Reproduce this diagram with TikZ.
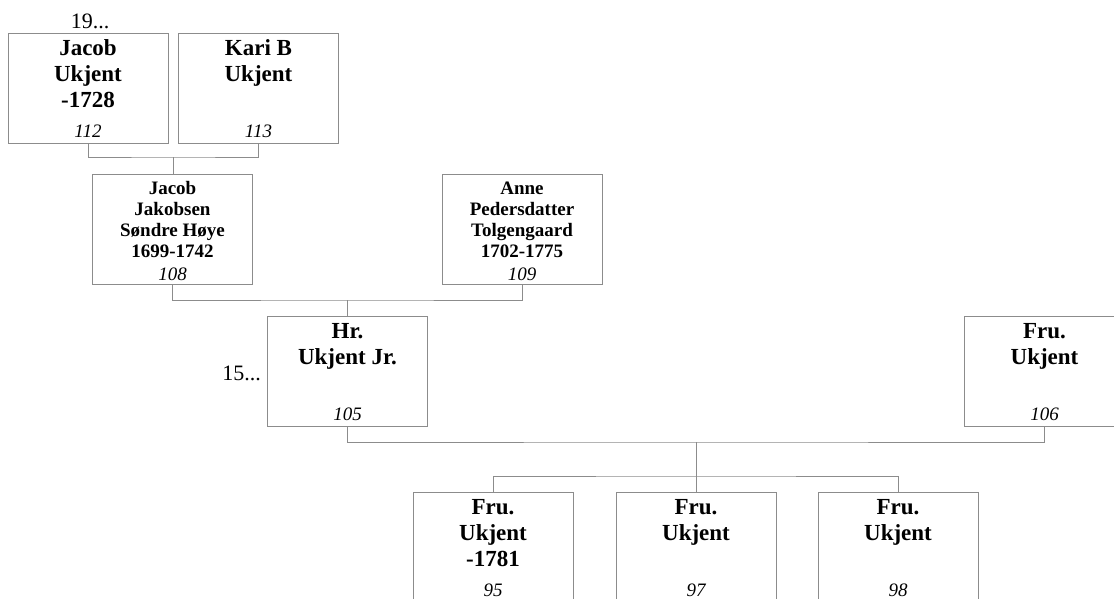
\documentclass[tikz,border=0pt]{standalone}
\usepackage{fontspec}
\setmainfont{Liberation Serif}
\definecolor{lc}{RGB}{140,140,140}
\tikzset{
  box/.style={draw=lc, line width=1pt, minimum width=160pt, minimum height=110pt, inner sep=0pt, anchor=north},
  bigname/.style={font=\bfseries\fontsize{23}{26}\selectfont, align=center, inner sep=0pt, anchor=north, execute at begin node=\strut},
  smallname/.style={font=\bfseries\fontsize{19}{21}\selectfont, align=center, inner sep=0pt, anchor=north, execute at begin node=\strut},
  num/.style={font=\itshape\fontsize{19}{21}\selectfont, inner sep=0pt, anchor=base},
  gen/.style={font=\fontsize{22}{24}\selectfont, inner sep=0pt},
  conn/.style={draw=lc, line width=1pt}
}
\newcommand\bigperson[5]{%
  \node[box] (#1) at (#2,#3) {};
  \node[bigname] (#1-t) at ([yshift=-6.8pt]#1.north) {#4};
  \node[num] (#1-n) at ([yshift=6.5pt]#1.south) {#5};
}
\newcommand\smallperson[5]{%
  \node[box] (#1) at (#2,#3) {};
  \node[smallname] (#1-t) at ([yshift=-7.3pt]#1.north) {#4};
  \node[num] (#1-n) at ([yshift=5pt]#1.south) {#5};
}
\begin{document}
\begin{tikzpicture}[x=1pt,y=-1pt]
\clip (0,0) rectangle (1114,598);
\fill[white] (0,0) rectangle (1114,598);

\bigperson{b112}{88}{33}{Jacob\\Ukjent\\-1728}{112}
\bigperson{b113}{258.5}{33}{Kari B\\Ukjent}{113}
\smallperson{b108}{172.5}{174}{Jacob\\Jakobsen\\Søndre Høye\\1699-1742}{108}
\smallperson{b109}{522}{174}{Anne\\Pedersdatter\\Tolgengaard\\1702-1775}{109}
\bigperson{b105}{347.5}{316}{Hr.\\Ukjent Jr.}{105}
\bigperson{b106}{1044.5}{316}{Fru.\\Ukjent}{106}
\bigperson{b95}{493}{492}{Fru.\\Ukjent\\-1781}{95}
\bigperson{b97}{696}{492}{Fru.\\Ukjent}{97}
\bigperson{b98}{898}{492}{Fru.\\Ukjent}{98}

\node[gen, anchor=base] (g19) at (90,28) {19...};
\node[gen, anchor=base east] (g15) at (261,380) {15...};

\coordinate (j1) at (173.25,157);
\coordinate (j2) at (347.25,300);
\coordinate (j3) at (696,442);
\coordinate (j4) at (696,476);

\draw[conn] (b112.south) |- (j1) -| (b113.south);
\draw[conn] (j1) -- (j1 |- b108.north);
\draw[conn] (b108.south) |- (j2) -| (b109.south);
\draw[conn] (j2) -- (j2 |- b105.north);
\draw[conn] (b105.south) |- (j3) -| (b106.south);
\draw[conn] (j3) -- (j4);
\draw[conn] (j4) -- (b97.north);
\draw[conn] (b95.north) |- (j4) -| (b98.north);
\end{tikzpicture}
\end{document}
